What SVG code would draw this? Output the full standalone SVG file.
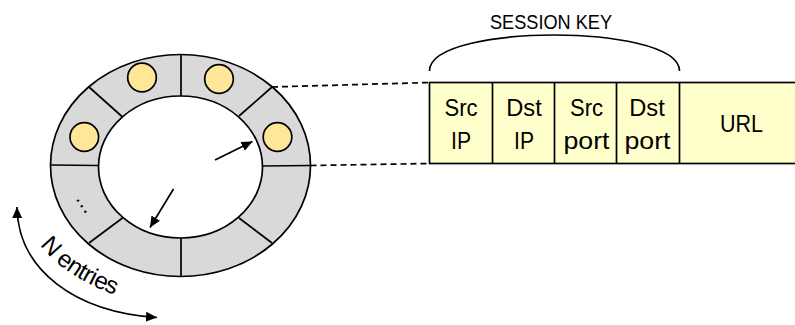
<svg xmlns="http://www.w3.org/2000/svg" width="795" height="325" viewBox="0 0 795 325">
  <defs>
    <marker id="head" viewBox="0 0 10 10" refX="10" refY="5" markerWidth="11" markerHeight="11" markerUnits="userSpaceOnUse" orient="auto">
      <path d="M0,0.5 L10,5 L0,9.5 z" fill="#000"/>
    </marker>
    <marker id="headStart" viewBox="0 0 10 10" refX="0" refY="5" markerWidth="11" markerHeight="11" markerUnits="userSpaceOnUse" orient="auto">
      <path d="M10,0.5 L0,5 L10,9.5 z" fill="#000"/>
    </marker>
    <!-- baseline for the curved "N entries" label -->
    <path id="nBase" d="M40,245 Q66,279 124,298"/>
  </defs>
  <style>
    .ln { stroke: #000; stroke-width: 1.7; fill: none; }
    .ring { fill: #D9D9D9; stroke: #000; stroke-width: 1.7; }
    .hole { fill: #FFFFFF; stroke: #000; stroke-width: 1.7; }
    .slot { fill: #FFE699; stroke: #000; stroke-width: 1.7; }
    .cell { fill: #FFFFCC; stroke: #000; stroke-width: 1.7; }
    .dash { stroke: #000; stroke-width: 1.7; stroke-dasharray: 6 4; fill: none; }
    .t { font-family: "Liberation Sans", Arial, sans-serif; font-size: 24px; fill: #000; text-anchor: middle; }
    .key { font-size: 21px; }
    .lbl { font-size: 24px; text-anchor: start; letter-spacing: -0.6px; }
  </style>

  <!-- circular buffer with 8 slots -->
  <g id="ring">
    <ellipse class="ring" cx="180.5" cy="165.5" rx="130" ry="111"/>
    <ellipse class="hole" cx="180.5" cy="167" rx="82" ry="71"/>
    <path class="ln" d="M181,54 L181,96 M181,238 L181,276.5 M50.5,165 L98.5,165.5 M262.5,166 L310.5,165.5 M89,87 L122.5,117 M272,87 L239,116 M89,243 L122.5,218 M272,243 L239,218"/>
  </g>

  <!-- occupied slots -->
  <g id="slots">
    <circle class="slot" cx="142" cy="77.5" r="14.3"/>
    <circle class="slot" cx="219" cy="79" r="14.3"/>
    <circle class="slot" cx="277.5" cy="137" r="14.3"/>
    <circle class="slot" cx="84.3" cy="137" r="14.3"/>
  </g>

  <g id="ellipsis">
    <text class="t" transform="translate(82,206) rotate(57)" x="0" y="1.5" style="font-size:21px">…</text>
  </g>

  <!-- session record -->
  <g id="record">
    <rect class="cell" x="429.5" y="82.5" width="380" height="81"/>
    <path class="ln" d="M492.5,82.5 V163.5 M554.5,82.5 V163.5 M616.5,82.5 V163.5 M679.5,82.5 V163.5"/>
    <text class="t" x="461" y="115.7" textLength="33" lengthAdjust="spacingAndGlyphs">Src</text>
    <text class="t" x="461" y="149" textLength="20" lengthAdjust="spacingAndGlyphs">IP</text>
    <text class="t" x="524" y="115.7" textLength="35.5" lengthAdjust="spacingAndGlyphs">Dst</text>
    <text class="t" x="524" y="149" textLength="20" lengthAdjust="spacingAndGlyphs">IP</text>
    <text class="t" x="586.5" y="115.7" textLength="33" lengthAdjust="spacingAndGlyphs">Src</text>
    <text class="t" x="586.5" y="148.5" textLength="46" lengthAdjust="spacingAndGlyphs">port</text>
    <text class="t" x="647" y="115.7" textLength="35.5" lengthAdjust="spacingAndGlyphs">Dst</text>
    <text class="t" x="647.5" y="148.5" textLength="46" lengthAdjust="spacingAndGlyphs">port</text>
    <text class="t" x="741.5" y="131.7" textLength="43" lengthAdjust="spacingAndGlyphs">URL</text>
  </g>

  <g id="session-key">
    <path class="ln" d="M429.5,71 C429.5,45 500,35 554,35 C608,35 679.5,45 679.5,71"/>
    <text class="t key" x="551" y="29" textLength="122" lengthAdjust="spacingAndGlyphs">SESSION KEY</text>
  </g>

  <g id="n-entries">
    <text class="t lbl"><textPath href="#nBase" startOffset="0">N entries</textPath></text>
  </g>

  <!-- connectors -->
  <g id="connectors">
    <path class="dash" d="M272,87 L429.5,82.5"/>
    <path class="dash" d="M310.5,165.5 L429.5,163.5"/>
    <path class="ln" d="M215,160 L252.5,141.5" marker-end="url(#head)"/>
    <path class="ln" d="M173.5,189 L150,227.5" marker-end="url(#head)"/>
    <path class="ln" d="M17,207 C18,270 75,312 157,317.5" marker-start="url(#headStart)" marker-end="url(#head)"/>
  </g>
</svg>
